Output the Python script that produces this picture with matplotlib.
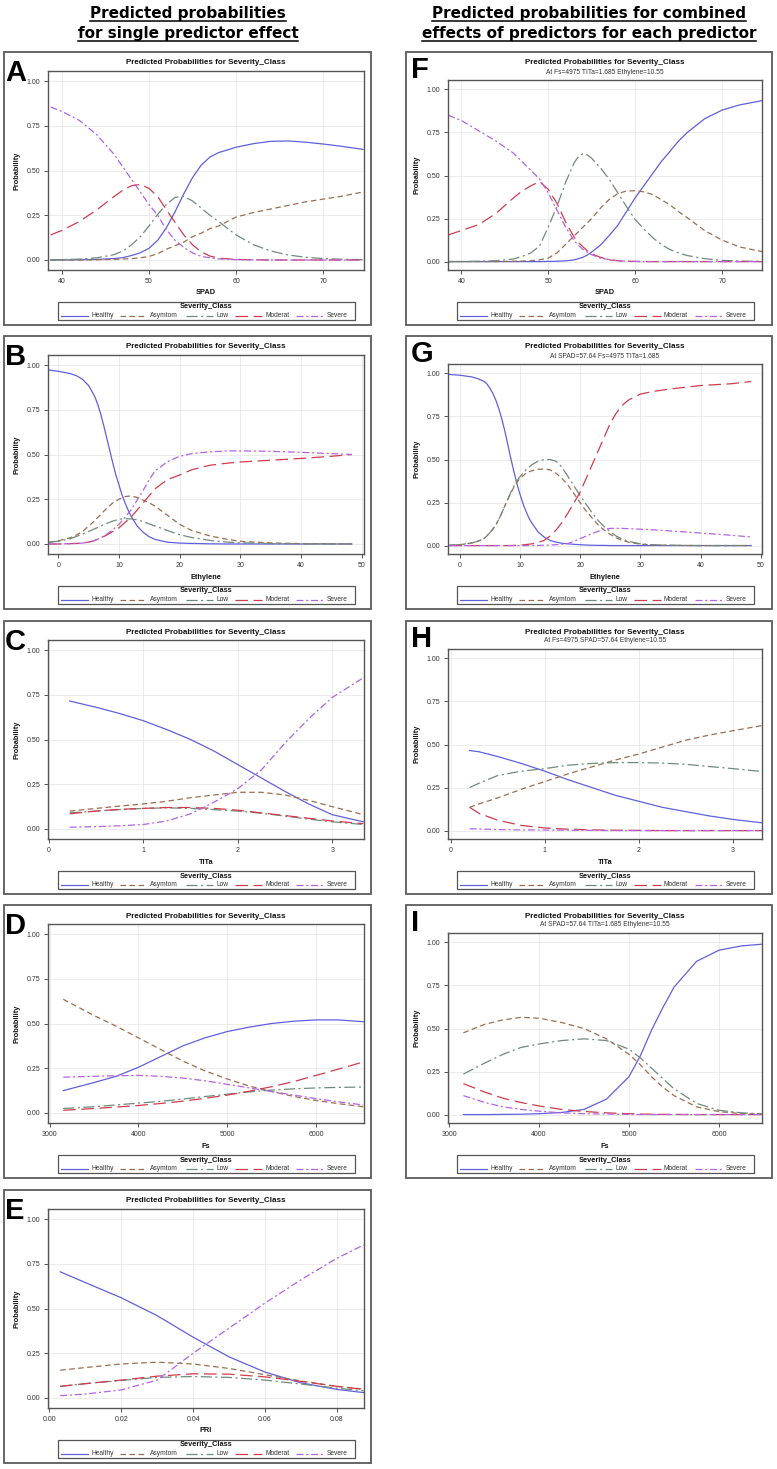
import matplotlib
matplotlib.use("Agg")
import matplotlib.pyplot as plt
from matplotlib.lines import Line2D
from matplotlib.patches import Rectangle
from matplotlib.ticker import FixedLocator, FormatStrFormatter

plt.rcParams['font.family'] = ['Liberation Sans', 'DejaVu Sans']
plt.rcParams['lines.scale_dashes'] = False

W, H, DPI = 777, 1469, 100

# ---------------- data ----------------
CLASSES = ["Healthy", "Asymtom", "Low", "Moderat", "Severe"]

# A: SPAD, single predictor
a_x = [38.7, 40, 42, 44, 46, 47, 48, 49, 50, 51, 52, 53, 54, 55, 56, 57, 58, 60, 62, 64, 66, 68, 70, 72, 74.6]
a_healthy = [0, 0, 0.001, 0.003, 0.008, 0.013, 0.025, 0.04, 0.065, 0.11, 0.18, 0.27, 0.37, 0.46, 0.53, 0.575, 0.60, 0.63, 0.65, 0.663, 0.665, 0.658, 0.648, 0.636, 0.618]
a_asymtom = [0, 0, 0, 0.001, 0.003, 0.005, 0.008, 0.012, 0.02, 0.035, 0.06, 0.08, 0.10, 0.13, 0.15, 0.175, 0.19, 0.24, 0.265, 0.285, 0.305, 0.325, 0.34, 0.355, 0.38]
a_low = [0.001, 0.002, 0.005, 0.012, 0.03, 0.05, 0.085, 0.13, 0.19, 0.255, 0.31, 0.35, 0.355, 0.33, 0.29, 0.25, 0.215, 0.14, 0.085, 0.05, 0.028, 0.015, 0.008, 0.004, 0.002]
a_moderat = [0.14, 0.165, 0.215, 0.28, 0.355, 0.39, 0.415, 0.422, 0.40, 0.355, 0.28, 0.21, 0.14, 0.085, 0.045, 0.022, 0.01, 0.003, 0.001, 0, 0, 0, 0, 0, 0]
a_severe = [0.855, 0.83, 0.78, 0.70, 0.59, 0.52, 0.45, 0.38, 0.31, 0.25, 0.17, 0.11, 0.07, 0.04, 0.02, 0.012, 0.006, 0.002, 0.001, 0, 0, 0, 0, 0, 0]

# B: Ethylene, single predictor
b_x = [-1.5, 0, 2, 3, 4, 5, 6, 6.5, 7, 7.5, 8, 8.5, 9, 9.5, 10, 10.5, 11, 11.5, 12, 13, 14, 15, 16, 18, 20, 22, 25, 28, 30, 35, 40, 45, 48.4]
b_healthy = [0.972, 0.965, 0.952, 0.94, 0.92, 0.885, 0.825, 0.78, 0.725, 0.66, 0.59, 0.52, 0.45, 0.385, 0.33, 0.275, 0.23, 0.19, 0.155, 0.10, 0.065, 0.04, 0.025, 0.01, 0.005, 0.003, 0.001, 0, 0, 0, 0, 0, 0]
b_asymtom = [0.01, 0.018, 0.035, 0.05, 0.07, 0.10, 0.13, 0.148, 0.165, 0.183, 0.20, 0.215, 0.23, 0.24, 0.25, 0.258, 0.265, 0.267, 0.268, 0.26, 0.245, 0.23, 0.21, 0.16, 0.11, 0.075, 0.045, 0.025, 0.015, 0.006, 0.002, 0.001, 0]
b_low = [0.01, 0.015, 0.03, 0.042, 0.055, 0.07, 0.085, 0.092, 0.10, 0.108, 0.115, 0.122, 0.128, 0.133, 0.138, 0.14, 0.142, 0.141, 0.14, 0.135, 0.125, 0.112, 0.10, 0.075, 0.052, 0.036, 0.02, 0.01, 0.007, 0.002, 0.001, 0, 0]
b_moderat = [0, 0, 0.002, 0.003, 0.005, 0.01, 0.02, 0.027, 0.035, 0.042, 0.05, 0.06, 0.07, 0.08, 0.09, 0.105, 0.12, 0.135, 0.15, 0.19, 0.23, 0.27, 0.31, 0.36, 0.385, 0.415, 0.44, 0.452, 0.458, 0.468, 0.478, 0.49, 0.50]
b_severe = [0, 0, 0.002, 0.003, 0.005, 0.01, 0.02, 0.027, 0.035, 0.045, 0.055, 0.067, 0.08, 0.095, 0.11, 0.13, 0.15, 0.17, 0.19, 0.245, 0.30, 0.36, 0.41, 0.46, 0.49, 0.505, 0.515, 0.52, 0.52, 0.518, 0.512, 0.505, 0.50]

# C: TITa, single predictor
c_x = [0.22, 0.5, 0.75, 1.0, 1.25, 1.5, 1.75, 2.0, 2.25, 2.5, 2.75, 3.0, 3.33]
c_healthy = [0.715, 0.68, 0.645, 0.605, 0.555, 0.50, 0.435, 0.36, 0.285, 0.21, 0.14, 0.08, 0.04]
c_asymtom = [0.10, 0.115, 0.128, 0.14, 0.155, 0.175, 0.19, 0.205, 0.205, 0.19, 0.16, 0.125, 0.08]
c_low = [0.09, 0.10, 0.108, 0.115, 0.118, 0.115, 0.108, 0.10, 0.088, 0.072, 0.055, 0.04, 0.025]
c_moderat = [0.085, 0.10, 0.11, 0.115, 0.12, 0.12, 0.115, 0.105, 0.09, 0.075, 0.06, 0.045, 0.03]
c_severe = [0.01, 0.013, 0.018, 0.025, 0.045, 0.085, 0.15, 0.225, 0.33, 0.48, 0.615, 0.735, 0.845]

# D: Fs, single predictor
d_x = [3155, 3500, 3750, 4000, 4250, 4500, 4750, 5000, 5250, 5500, 5750, 6000, 6250, 6530]
d_healthy = [0.125, 0.17, 0.205, 0.255, 0.315, 0.375, 0.42, 0.455, 0.48, 0.50, 0.513, 0.52, 0.52, 0.51]
d_asymtom = [0.635, 0.545, 0.485, 0.42, 0.355, 0.29, 0.235, 0.19, 0.15, 0.12, 0.092, 0.07, 0.052, 0.035]
d_low = [0.025, 0.035, 0.045, 0.055, 0.065, 0.078, 0.092, 0.105, 0.118, 0.128, 0.135, 0.14, 0.143, 0.145]
d_moderat = [0.015, 0.025, 0.033, 0.042, 0.053, 0.066, 0.082, 0.10, 0.122, 0.147, 0.176, 0.21, 0.245, 0.285]
d_severe = [0.20, 0.205, 0.208, 0.21, 0.205, 0.195, 0.18, 0.16, 0.14, 0.12, 0.10, 0.08, 0.062, 0.045]

# E: PRI, single predictor
e_x = [0.003, 0.01, 0.02, 0.03, 0.04, 0.05, 0.06, 0.07, 0.08, 0.0875]
e_healthy = [0.705, 0.645, 0.56, 0.46, 0.34, 0.23, 0.145, 0.085, 0.048, 0.03]
e_asymtom = [0.155, 0.17, 0.19, 0.20, 0.19, 0.165, 0.13, 0.095, 0.065, 0.05]
e_low = [0.065, 0.08, 0.098, 0.115, 0.12, 0.115, 0.10, 0.078, 0.055, 0.04]
e_moderat = [0.065, 0.08, 0.10, 0.122, 0.135, 0.133, 0.118, 0.093, 0.065, 0.048]
e_severe = [0.013, 0.022, 0.045, 0.10, 0.25, 0.39, 0.53, 0.66, 0.78, 0.855]

# F: SPAD, combined
f_x = [38.5, 40, 42, 44, 46, 47, 48, 49, 50, 51, 52, 53, 53.5, 54, 54.5, 55, 56, 57, 58, 59, 60, 61, 62, 63, 64, 65, 66, 68, 70, 72, 74.6]
f_healthy = [0, 0, 0, 0, 0, 0, 0, 0, 0.001, 0.002, 0.004, 0.01, 0.017, 0.025, 0.038, 0.055, 0.095, 0.15, 0.21, 0.29, 0.37, 0.44, 0.51, 0.58, 0.64, 0.70, 0.75, 0.83, 0.88, 0.91, 0.935]
f_asymtom = [0, 0, 0, 0, 0.002, 0.003, 0.005, 0.01, 0.02, 0.05, 0.10, 0.15, 0.175, 0.20, 0.225, 0.25, 0.31, 0.36, 0.395, 0.41, 0.412, 0.405, 0.39, 0.36, 0.33, 0.29, 0.255, 0.18, 0.125, 0.085, 0.058]
f_low = [0, 0, 0.002, 0.005, 0.015, 0.03, 0.05, 0.09, 0.20, 0.32, 0.46, 0.575, 0.612, 0.627, 0.62, 0.60, 0.545, 0.48, 0.40, 0.32, 0.245, 0.19, 0.14, 0.10, 0.07, 0.05, 0.035, 0.017, 0.007, 0.003, 0.001]
f_moderat = [0.155, 0.18, 0.215, 0.28, 0.37, 0.41, 0.44, 0.465, 0.42, 0.34, 0.23, 0.14, 0.11, 0.085, 0.063, 0.045, 0.025, 0.01, 0.005, 0.002, 0.001, 0, 0, 0, 0, 0, 0, 0, 0, 0, 0]
f_severe = [0.85, 0.82, 0.76, 0.70, 0.63, 0.58, 0.53, 0.48, 0.40, 0.30, 0.20, 0.12, 0.093, 0.07, 0.053, 0.04, 0.02, 0.012, 0.005, 0.002, 0.001, 0, 0, 0, 0, 0, 0, 0, 0, 0, 0]

# G: Ethylene, combined
g_x = [-1.7, 0, 2, 3, 4, 4.5, 5, 5.5, 6, 6.5, 7, 7.5, 8, 8.5, 9, 9.5, 10, 10.5, 11, 11.5, 12, 13, 14, 15, 16, 17, 18, 19, 20, 21, 22, 23, 24, 25, 26, 27, 28, 30, 32, 35, 40, 45, 48.4]
g_healthy = [0.994, 0.99, 0.98, 0.97, 0.955, 0.94, 0.915, 0.885, 0.845, 0.795, 0.735, 0.665, 0.585, 0.505, 0.43, 0.36, 0.30, 0.245, 0.20, 0.16, 0.13, 0.08, 0.05, 0.03, 0.02, 0.013, 0.01, 0.007, 0.005, 0.003, 0.002, 0.001, 0.001, 0, 0, 0, 0, 0, 0, 0, 0, 0, 0]
g_asymtom = [0.002, 0.005, 0.015, 0.025, 0.04, 0.055, 0.075, 0.095, 0.12, 0.153, 0.19, 0.23, 0.27, 0.305, 0.34, 0.367, 0.39, 0.405, 0.42, 0.428, 0.435, 0.443, 0.445, 0.44, 0.42, 0.39, 0.35, 0.30, 0.25, 0.20, 0.16, 0.12, 0.09, 0.065, 0.045, 0.03, 0.02, 0.008, 0.004, 0.001, 0, 0, 0]
g_low = [0.002, 0.005, 0.015, 0.025, 0.04, 0.055, 0.075, 0.095, 0.12, 0.153, 0.19, 0.23, 0.27, 0.31, 0.345, 0.375, 0.40, 0.42, 0.44, 0.455, 0.47, 0.49, 0.50, 0.50, 0.49, 0.455, 0.40, 0.345, 0.29, 0.24, 0.19, 0.145, 0.11, 0.08, 0.055, 0.038, 0.025, 0.01, 0.005, 0.002, 0, 0, 0]
g_moderat = [0, 0, 0, 0, 0, 0, 0, 0, 0, 0, 0, 0, 0, 0, 0.001, 0.002, 0.003, 0.004, 0.006, 0.008, 0.01, 0.018, 0.03, 0.055, 0.09, 0.135, 0.19, 0.25, 0.31, 0.39, 0.47, 0.55, 0.63, 0.71, 0.77, 0.815, 0.845, 0.88, 0.895, 0.91, 0.93, 0.94, 0.953]
g_severe = [0, 0, 0, 0, 0, 0, 0, 0, 0, 0, 0, 0, 0, 0, 0, 0, 0, 0, 0, 0, 0, 0.001, 0.002, 0.003, 0.005, 0.008, 0.012, 0.025, 0.04, 0.055, 0.07, 0.083, 0.095, 0.1, 0.1, 0.1, 0.098, 0.095, 0.092, 0.085, 0.073, 0.06, 0.05]

# H: TITa, combined
h_x = [0.2, 0.3, 0.5, 0.75, 1.0, 1.25, 1.5, 1.75, 2.0, 2.25, 2.5, 2.75, 3.0, 3.31]
h_healthy = [0.465, 0.458, 0.43, 0.39, 0.345, 0.295, 0.25, 0.205, 0.17, 0.135, 0.11, 0.085, 0.065, 0.045]
h_asymtom = [0.135, 0.155, 0.19, 0.24, 0.285, 0.33, 0.37, 0.41, 0.445, 0.485, 0.525, 0.555, 0.58, 0.61]
h_low = [0.25, 0.275, 0.32, 0.345, 0.36, 0.38, 0.39, 0.395, 0.395, 0.392, 0.385, 0.372, 0.36, 0.343]
h_moderat = [0.135, 0.10, 0.06, 0.03, 0.015, 0.008, 0.004, 0.002, 0.001, 0, 0, 0, 0, 0]
h_severe = [0.01, 0.009, 0.006, 0.004, 0.003, 0.002, 0.001, 0, 0, 0, 0, 0, 0, 0]

# I: Fs, combined
i_x = [3160, 3400, 3600, 3800, 4000, 4250, 4500, 4750, 5000, 5125, 5250, 5375, 5500, 5750, 6000, 6250, 6480]
i_healthy = [0, 0, 0.001, 0.002, 0.005, 0.012, 0.03, 0.09, 0.22, 0.34, 0.49, 0.62, 0.74, 0.89, 0.955, 0.98, 0.99]
i_asymtom = [0.475, 0.525, 0.55, 0.565, 0.56, 0.535, 0.50, 0.44, 0.35, 0.29, 0.22, 0.16, 0.11, 0.045, 0.017, 0.006, 0.002]
i_low = [0.235, 0.30, 0.35, 0.39, 0.41, 0.43, 0.44, 0.43, 0.38, 0.33, 0.27, 0.21, 0.15, 0.065, 0.025, 0.01, 0.004]
i_moderat = [0.18, 0.13, 0.095, 0.07, 0.05, 0.03, 0.018, 0.01, 0.005, 0.003, 0.002, 0.001, 0.001, 0, 0, 0, 0]
i_severe = [0.11, 0.07, 0.045, 0.03, 0.02, 0.01, 0.005, 0.003, 0.001, 0, 0, 0, 0, 0, 0, 0, 0]

y_ticks = [0.0, 0.25, 0.5, 0.75, 1.0]
TITLE = "Predicted Probabilities for Severity_Class"

# ---------------- styling ----------------
COLORS = ["#6060dc", "#9c6e50", "#6e8c7c", "#d03c4c", "#b462e6"]
DASHES = ['-', (0, (4, 2.5)), (0, (8, 2.5, 1.5, 2.5)), (0, (9, 4)), (0, (5, 2, 1.5, 2))]
LW = 0.9
GRAY = "#555555"

fig = plt.figure(figsize=(W / DPI, H / DPI), dpi=DPI)
fig.patch.set_facecolor("white")


def fx(px):
    return px / W


def fy(py):
    return 1 - py / H


ROW_TOPS = [52, 336, 621, 905, 1190]
BOX_H = 273


def draw_panel(col, row, letter, x, series, xlim, xticks, xfmt, xlabel, subtitle=None):
    top = ROW_TOPS[row]
    if col == 0:
        bx0, bx1, ax0, ax1, atop = 4, 371, 48, 364, 19
        ylim = (-0.056, 1.056)
        lx, lbase, ylab_x = 5, 29, 17
    else:
        bx0, bx1, ax0, ax1, atop = 406, 772, 448, 762, 28
        ylim = (-0.049, 1.055)
        lx, lbase, ylab_x = 411, 26, 417
    abot = 218
    fig.add_artist(Rectangle((fx(bx0), fy(top + BOX_H)), (bx1 - bx0) / W, BOX_H / H,
                             transform=fig.transFigure, fill=False, ec="#5a5a5a", lw=1.3))
    ax = fig.add_axes([fx(ax0), fy(top + abot), (ax1 - ax0) / W, (abot - atop) / H])
    for c, ls, y in zip(COLORS, DASHES, series):
        ax.plot(x, y, color=c, ls=ls, lw=LW)
    ax.set_xlim(*xlim)
    ax.set_ylim(*ylim)
    ax.xaxis.set_major_locator(FixedLocator(xticks))
    ax.yaxis.set_major_locator(FixedLocator(y_ticks))
    ax.xaxis.set_major_formatter(FormatStrFormatter(xfmt))
    ax.yaxis.set_major_formatter(FormatStrFormatter("%.2f"))
    ax.tick_params(axis="both", direction="out", length=3, width=0.7, color=GRAY,
                   labelsize=5, pad=2.5, labelcolor="#333333")
    for s in ax.spines.values():
        s.set_color(GRAY)
        s.set_linewidth(1.0)
    ax.grid(True, color="#e9e9e9", lw=0.6)
    ax.set_axisbelow(True)

    cx = (ax0 + ax1) / 2
    fig.text(fx(cx), fy(top + 11), TITLE, ha="center", va="center",
             fontsize=5.8, fontweight="bold", color="#111111")
    if subtitle:
        fig.text(fx(cx), fy(top + 20), subtitle, ha="center", va="center",
                 fontsize=4.8, color="#333333")
    fig.text(fx(cx), fy(top + 241), xlabel, ha="center", va="center",
             fontsize=5.3, fontweight="bold", color="#111111")
    fig.text(fx(ylab_x), fy(top + (atop + abot) / 2), "Probability", ha="center", va="center",
             rotation=90, fontsize=5.3, fontweight="bold", color="#111111")
    fig.text(fx(lx), fy(top + lbase), letter, ha="left", va="baseline",
             fontsize=21, fontweight="bold", color="black")

    # legend
    lw_box = 297
    lleft = cx - lw_box / 2
    fig.add_artist(Rectangle((fx(lleft), fy(top + 268)), lw_box / W, 18 / H,
                             transform=fig.transFigure, fill=False, ec=GRAY, lw=0.9))
    fig.text(fx(cx), fy(top + 255), "Severity_Class", ha="center", va="center",
             fontsize=5.3, fontweight="bold", color="#111111")
    offs = [3.7, 62, 128.7, 177, 238.7]
    ly = fy(top + 263.5)
    for name, c, ls, o in zip(CLASSES, COLORS, DASHES, offs):
        fig.add_artist(Line2D([fx(lleft + o), fx(lleft + o + 27)], [ly, ly],
                              transform=fig.transFigure, color=c, ls=ls, lw=LW))
        fig.text(fx(lleft + o + 30.5), ly, name, ha="left", va="center",
                 fontsize=4.8, color="#333333")
    return ax


draw_panel(0, 0, "A", a_x, [a_healthy, a_asymtom, a_low, a_moderat, a_severe],
           (38.4, 74.7), [40, 50, 60, 70], "%d", "SPAD")
draw_panel(0, 1, "B", b_x, [b_healthy, b_asymtom, b_low, b_moderat, b_severe],
           (-1.7, 50.4), [0, 10, 20, 30, 40, 50], "%d", "Ethylene")
draw_panel(0, 2, "C", c_x, [c_healthy, c_asymtom, c_low, c_moderat, c_severe],
           (-0.01, 3.337), [0, 1, 2, 3], "%d", "TITa")
draw_panel(0, 3, "D", d_x, [d_healthy, d_asymtom, d_low, d_moderat, d_severe],
           (2983, 6538), [3000, 4000, 5000, 6000], "%d", "Fs")
draw_panel(0, 4, "E", e_x, [e_healthy, e_asymtom, e_low, e_moderat, e_severe],
           (-0.0004, 0.0876), [0.0, 0.02, 0.04, 0.06, 0.08], "%.2f", "PRI")
draw_panel(1, 0, "F", f_x, [f_healthy, f_asymtom, f_low, f_moderat, f_severe],
           (38.47, 74.6), [40, 50, 60, 70], "%d", "SPAD",
           "At Fs=4975 TITa=1.685 Ethylene=10.55")
draw_panel(1, 1, "G", g_x, [g_healthy, g_asymtom, g_low, g_moderat, g_severe],
           (-1.94, 50.2), [0, 10, 20, 30, 40, 50], "%d", "Ethylene",
           "At SPAD=57.64 Fs=4975 TITa=1.685")
draw_panel(1, 2, "H", h_x, [h_healthy, h_asymtom, h_low, h_moderat, h_severe],
           (-0.03, 3.31), [0, 1, 2, 3], "%d", "TITa",
           "At Fs=4975 SPAD=57.64 Ethylene=10.55")
draw_panel(1, 3, "I", i_x, [i_healthy, i_asymtom, i_low, i_moderat, i_severe],
           (2989, 6478), [3000, 4000, 5000, 6000], "%d", "Fs",
           "At SPAD=57.64 TITa=1.685 Ethylene=10.55")

# ---------------- headers with underline ----------------
headers = [
    (188, 18.3, "Predicted probabilities"),
    (188, 38.3, "for single predictor effect"),
    (589, 18.3, "Predicted probabilities for combined"),
    (589, 38.3, "effects of predictors for each predictor"),
]
htexts = []
for hx, hy, s in headers:
    t = fig.text(fx(hx), fy(hy), s, ha="center", va="baseline", fontsize=11,
                 fontweight="bold", family="DejaVu Sans", color="black")
    htexts.append((t, hy))

fig.canvas.draw()
r = fig.canvas.get_renderer()
for t, hy in htexts:
    bb = t.get_window_extent(r)
    uy = fy(hy + 2.6)
    fig.add_artist(Line2D([bb.x0 / W, bb.x1 / W], [uy, uy], transform=fig.transFigure,
                          color="black", lw=1.1))

fig.savefig("out.png", dpi=DPI, facecolor="white")
